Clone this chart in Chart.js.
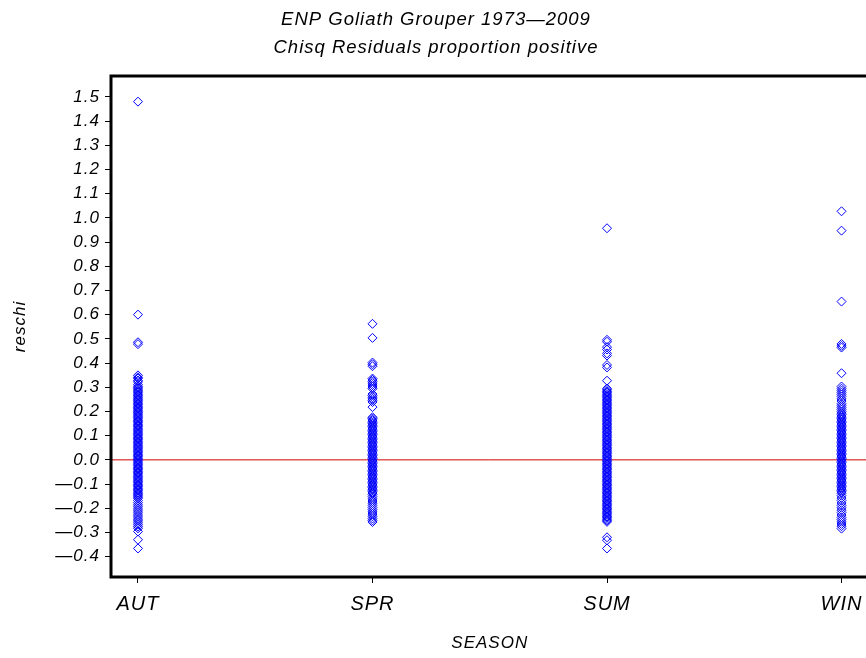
<!DOCTYPE html>
<html>
<head>
<meta charset="utf-8">
<script src="https://cdn.jsdelivr.net/npm/chart.js@4/dist/chart.umd.min.js"></script>
<style>
  html, body { margin: 0; padding: 0; background: #fff; overflow: hidden; }
</style>
</head>
<body>
<canvas id="chartCanvas" width="874" height="658"></canvas>
<script>
const seasons = ['AUT', 'SPR', 'SUM', 'WIN']

const autVals = [1.48, 0.60, 0.486, 0.478, 0.349, 0.341, 0.336, 0.328, 0.322, 0.311, 0.304, 0.298, 0.293, 0.288,
	0.282, 0.277, 0.271, 0.266, 0.26, 0.255, 0.249, 0.244, 0.239, 0.233, 0.228, 0.222, 0.217, 0.212, 0.206, 0.201,
	0.196, 0.19, 0.185, 0.18, 0.174, 0.169, 0.163, 0.158, 0.153, 0.147, 0.142, 0.137, 0.131, 0.126, 0.12, 0.115,
	0.11, 0.104, 0.099, 0.093, 0.088, 0.083, 0.077, 0.072, 0.066, 0.061, 0.056, 0.05, 0.045, 0.04, 0.034, 0.029,
	0.023, 0.018, 0.013, 0.007, 0.002, -0.004, -0.009, -0.014, -0.02, -0.025, -0.031, -0.036, -0.041, -0.047,
	-0.052, -0.057, -0.063, -0.068, -0.074, -0.079, -0.084, -0.09, -0.095, -0.101, -0.106, -0.111, -0.117, -0.122,
	-0.127, -0.133, -0.138, -0.144, -0.149, -0.154, -0.16, -0.168, -0.177, -0.186, -0.194, -0.203, -0.211, -0.219,
	-0.228, -0.236, -0.245, -0.252, -0.26, -0.268, -0.276, -0.283, -0.296, -0.33, -0.366]
const sprVals = [0.562, 0.504, 0.402, 0.395, 0.387, 0.336, 0.33, 0.324, 0.317, 0.309, 0.301, 0.294, 0.272, 0.266,
	0.259, 0.252, 0.246, 0.239, 0.218, 0.176, 0.171, 0.165, 0.16, 0.154, 0.149, 0.143, 0.138, 0.132, 0.127, 0.121,
	0.116, 0.11, 0.105, 0.099, 0.094, 0.088, 0.083, 0.077, 0.072, 0.066, 0.061, 0.055, 0.05, 0.044, 0.039, 0.033,
	0.028, 0.022, 0.017, 0.011, 0.006, 0.0, -0.005, -0.011, -0.016, -0.022, -0.027, -0.033, -0.038, -0.044, -0.049,
	-0.055, -0.06, -0.066, -0.071, -0.077, -0.082, -0.088, -0.093, -0.099, -0.104, -0.11, -0.115, -0.121, -0.126,
	-0.132, -0.137, -0.143, -0.152, -0.161, -0.17, -0.179, -0.188, -0.197, -0.206, -0.215, -0.224, -0.233, -0.242,
	-0.25, -0.257]
const sumVals = [0.957, 0.496, 0.488, 0.466, 0.456, 0.44, 0.431, 0.392, 0.382, 0.327, 0.295, 0.289, 0.283, 0.278,
	0.272, 0.267, 0.261, 0.256, 0.25, 0.245, 0.239, 0.234, 0.228, 0.223, 0.217, 0.212, 0.206, 0.201, 0.195, 0.19,
	0.184, 0.179, 0.173, 0.168, 0.162, 0.157, 0.151, 0.146, 0.14, 0.135, 0.129, 0.124, 0.118, 0.113, 0.107, 0.102,
	0.096, 0.091, 0.085, 0.08, 0.074, 0.069, 0.063, 0.058, 0.052, 0.047, 0.041, 0.036, 0.03, 0.025, 0.019, 0.014,
	0.008, 0.003, -0.003, -0.008, -0.014, -0.019, -0.025, -0.03, -0.036, -0.041, -0.047, -0.052, -0.058, -0.063,
	-0.069, -0.074, -0.08, -0.085, -0.091, -0.096, -0.102, -0.107, -0.113, -0.118, -0.124, -0.129, -0.135, -0.14,
	-0.146, -0.151, -0.157, -0.162, -0.168, -0.173, -0.179, -0.184, -0.19, -0.195, -0.201, -0.206, -0.212, -0.217,
	-0.223, -0.228, -0.234, -0.239, -0.245, -0.25, -0.256, -0.32, -0.332, -0.366]
const winVals = [1.027, 0.947, 0.654, 0.479, 0.471, 0.464, 0.358, 0.303, 0.294, 0.286, 0.278, 0.27, 0.262, 0.252,
	0.243, 0.232, 0.224, 0.216, 0.208, 0.2, 0.193, 0.187, 0.181, 0.176, 0.17, 0.165, 0.159, 0.154, 0.148, 0.143,
	0.137, 0.132, 0.126, 0.121, 0.115, 0.11, 0.104, 0.099, 0.093, 0.088, 0.082, 0.077, 0.071, 0.066, 0.06, 0.055,
	0.049, 0.044, 0.038, 0.033, 0.027, 0.022, 0.016, 0.011, 0.005, 0.0, -0.006, -0.011, -0.017, -0.022, -0.028,
	-0.033, -0.039, -0.044, -0.05, -0.055, -0.061, -0.066, -0.072, -0.077, -0.083, -0.088, -0.094, -0.099, -0.105,
	-0.11, -0.116, -0.121, -0.127, -0.132, -0.138, -0.148, -0.158, -0.168, -0.178, -0.188, -0.198, -0.208, -0.218,
	-0.228, -0.238, -0.247, -0.256, -0.265, -0.274, -0.284]

const yTicks = [-0.4, -0.3, -0.2, -0.1, 0.0, 0.1, 0.2, 0.3, 0.4, 0.5, 0.6, 0.7, 0.8, 0.9, 1.0, 1.1, 1.2, 1.3, 1.4, 1.5]
const xRange = [0.885, 4.115]
const yRange = [-0.484, 1.586]

const family = '"Liberation Sans", Arial, sans-serif'
const font = { family, size: 17, style: 'italic' }

const points = []
;[autVals, sprVals, sumVals, winVals].forEach((vals, i) => {
	vals.forEach(v => points.push({ x: i + 1, y: v }))
})

// SAS-style text is loosely spaced, and the plot is boxed on all four sides
const frame = {
	id: 'frame',
	beforeDraw(chart) {
		chart.ctx.letterSpacing = '1px'
	},
	afterDraw(chart) {
		const { ctx, chartArea: a } = chart
		ctx.save()
		ctx.strokeStyle = '#000'
		ctx.lineWidth = 3
		ctx.strokeRect(a.left, a.top, a.right - a.left, a.bottom - a.top)
		ctx.restore()
	}
}

new Chart(document.getElementById('chartCanvas'), {
	type: 'scatter',
	data: {
		datasets: [{
			data: points,
			pointStyle: 'rectRot',
			pointRadius: 4.5,
			pointBorderWidth: 1,
			borderColor: '#0000ff',
			backgroundColor: 'rgba(0,0,0,0)',
			order: 0
		}, {
			type: 'line',
			data: [{ x: xRange[0], y: 0 }, { x: xRange[1], y: 0 }],
			borderColor: '#d00000',
			borderWidth: 1,
			pointRadius: 0,
			order: 1
		}]
	},
	options: {
		responsive: false,
		animation: false,
		layout: { padding: { left: 0, right: 2, top: 0, bottom: 0 } },
		plugins: {
			legend: { display: false },
			tooltip: { enabled: false },
			title: {
				display: true,
				text: ['ENP Goliath Grouper 1973\u20142009', 'Chisq Residuals proportion positive'],
				color: '#000',
				font: { family, size: 18.5, style: 'italic', weight: 'normal', lineHeight: 28 / 18.5 },
				padding: { top: 6, bottom: 14 }
			}
		},
		scales: {
			x: {
				type: 'linear',
				min: xRange[0],
				max: xRange[1],
				afterFit: s => { s.height = 81 },
				afterBuildTicks: s => { s.ticks = seasons.map((_, i) => ({ value: i + 1 })) },
				ticks: {
					color: '#000',
					font: { family, size: 20, style: 'italic' },
					padding: 9,
					callback: v => seasons[v - 1]
				},
				grid: { drawOnChartArea: false, drawTicks: true, tickLength: 6, color: '#000' },
				border: { display: false },
				title: { display: true, text: 'SEASON', color: '#000', font, padding: { top: 0, bottom: 5 } }
			},
			y: {
				min: yRange[0],
				max: yRange[1],
				afterFit: s => { s.width = 111 },
				afterBuildTicks: s => { s.ticks = yTicks.map(v => ({ value: v })) },
				ticks: {
					color: '#000',
					font,
					padding: 5,
					autoSkip: false,
					callback: v => v.toFixed(1).replace('-', '\u2014')
				},
				grid: { drawOnChartArea: false, drawTicks: true, tickLength: 6, color: '#000' },
				border: { display: false },
				title: { display: true, text: 'reschi', color: '#000', font, padding: { top: 10, bottom: 0 } }
			}
		}
	},
	plugins: [frame]
})
</script>
</body>
</html>
